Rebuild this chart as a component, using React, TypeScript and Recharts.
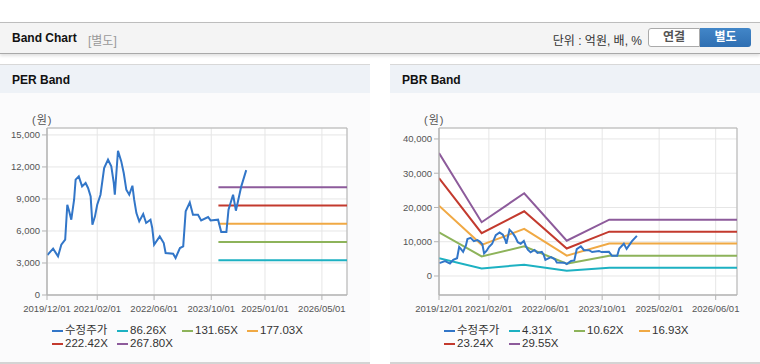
import { LineChart, Line, XAxis, YAxis, CartesianGrid, ReferenceArea } from 'recharts';

// adjusted price (수정주가), shared by both charts
const priceDates = [
  '2019-12-04', '2020-01-22', '2020-03-04', '2020-04-01', '2020-05-04', '2020-05-22',
  '2020-06-07', '2020-06-25', '2020-07-19', '2020-08-01', '2020-08-28', '2020-09-25',
  '2020-10-25', '2020-11-15', '2020-12-07', '2020-12-22', '2021-01-13', '2021-02-01',
  '2021-03-01', '2021-04-01', '2021-05-04', '2021-06-01', '2021-06-22', '2021-07-01',
  '2021-07-28', '2021-08-25', '2021-09-15', '2021-10-07', '2021-11-01', '2021-11-28',
  '2021-12-13', '2022-01-01', '2022-01-25', '2022-02-28', '2022-03-25', '2022-05-01',
  '2022-05-16', '2022-06-01', '2022-07-19', '2022-08-22', '2022-09-07', '2022-11-10',
  '2022-12-01', '2023-01-07', '2023-02-04', '2023-02-25', '2023-04-01', '2023-04-28',
  '2023-06-10', '2023-07-07', '2023-09-04', '2023-09-25', '2023-11-28', '2023-12-25',
  '2024-02-07', '2024-02-25', '2024-04-04', '2024-04-28', '2024-06-13', '2024-07-25',
];
const priceValues = [
  3750, 4340, 3620, 4710, 5180, 8460,
  7840, 7060, 8930, 10810, 11120, 10180,
  10500, 10030, 9240, 6590, 7370, 8460,
  9400, 11900, 12680, 12050, 10500, 9400,
  13520, 12520, 11430, 9870, 9400, 10240,
  8930, 7680, 6900, 7590, 6750, 7060,
  6280, 4710, 5490, 4870, 3940, 3870,
  3470, 4400, 4560, 7840, 8680, 7530,
  7530, 6990, 7310, 6990, 7060, 5900,
  5900, 8000, 9400, 7900, 10180, 11700,
];

const perTickLabels = ['2019/12/01', '2021/02/01', '2022/06/01', '2023/10/01', '2025/01/01', '2026/05/01'];
const pbrTickLabels = ['2019/12/01', '2021/02/01', '2022/06/01', '2023/10/01', '2025/02/01', '2026/06/01'];
const perYTicks = [0, 3000, 6000, 9000, 12000, 15000];
const pbrYTicks = [0, 10000, 20000, 30000, 40000];

const perBandNames = ['86.26X', '131.65X', '177.03X', '222.42X', '267.80X'];
const perBandDates = ['2023-12-01', '2026-12-01'];
const perBandValues = [3250, 4960, 6670, 8385, 10095];

const pbrBandNames = ['4.31X', '10.62X', '16.93X', '23.24X', '29.55X'];
const pbrBandDates = ['2019-12-01', '2020-12-01', '2021-12-01', '2022-12-01', '2023-12-01', '2026-12-01'];
const pbrBand431 = [5200, 2200, 3300, 1550, 2420, 2420];
const pbrBand1062 = [12730, 5720, 8650, 3600, 5930, 5930];
const pbrBand1693 = [20520, 9100, 13750, 5950, 9500, 9500];
const pbrBand2324 = [28600, 12500, 18900, 8030, 12950, 12950];
const pbrBand2955 = [35900, 15700, 24150, 10300, 16450, 16450];

const priceColor = '#3276c8';
const bandColors = ['#1db1c2', '#8db35a', '#f0a944', '#c33a2e', '#8d5b9b'];

const FONT = '"Liberation Sans", "Noto Sans CJK KR", sans-serif';
const toTime = (d: string) => new Date(d.replace(/\//g, '-')).getTime();
const fmtDate = (t: number) => {
  const d = new Date(t);
  const mm = String(d.getUTCMonth() + 1).padStart(2, '0');
  const dd = String(d.getUTCDate()).padStart(2, '0');
  return `${d.getUTCFullYear()}/${mm}/${dd}`;
};
const xDomain = [toTime('2019-12-01'), toTime('2026-12-01')];

const priceData = priceDates.map((d, i) => ({ t: toTime(d), v: priceValues[i] }));

interface Band {
  name: string;
  color: string;
  data: { t: number; v: number }[];
}

const perBands: Band[] = perBandNames.map((name, i) => ({
  name,
  color: bandColors[i],
  data: perBandDates.map((d) => ({ t: toTime(d), v: perBandValues[i] })),
}));

const pbrBands: Band[] = [pbrBand431, pbrBand1062, pbrBand1693, pbrBand2324, pbrBand2955].map(
  (vals, i) => ({
    name: pbrBandNames[i],
    color: bandColors[i],
    data: pbrBandDates.map((d, j) => ({ t: toTime(d), v: vals[j] })),
  })
);

interface BandChartProps {
  title: string;
  left: number;
  tickLabels: string[];
  yTicks: number[];
  yDomain: [number, number];
  yWidth: number;
  bands: Band[];
}

function BandPanel({ title, left, tickLabels, yTicks, yDomain, yWidth, bands }: BandChartProps) {
  const axisColor = '#b3b3b3';
  const tickStyle = { fontSize: 9.5, fill: '#555', fontFamily: FONT };
  const legendItems = [{ name: '수정주가', color: priceColor }, ...bands];

  return (
    <div
      style={{
        position: 'absolute',
        left,
        top: 64,
        width: 370,
        height: 297,
        background: '#fbfbfc',
        borderTop: '1px solid #d8d8d8',
        borderBottom: '2px solid #d4d4d4',
      }}
    >
      <div
        style={{
          height: 28,
          background: '#eef2f7',
          fontWeight: 'bold',
          fontSize: 12,
          lineHeight: '30px',
          paddingLeft: 12,
          color: '#111',
        }}
      >
        {title}
      </div>
      <div style={{ position: 'absolute', left: yWidth - 15, top: 46, fontSize: 11, color: '#555', letterSpacing: 1 }}>
        (원)
      </div>
      <div style={{ position: 'absolute', left: 0, top: 28 }}>
        <LineChart width={370} height={230} margin={{ top: 35, right: 23, bottom: 8, left: 0 }}>
          <CartesianGrid stroke="#e6e6e6" fill="#fff" />
          <XAxis
            type="number"
            dataKey="t"
            domain={xDomain}
            ticks={tickLabels.map(toTime)}
            tickFormatter={fmtDate}
            interval={0}
            height={20}
            tick={tickStyle}
            stroke={axisColor}
            tickSize={5}
            tickMargin={5}
            allowDataOverflow
          />
          <YAxis
            type="number"
            domain={yDomain}
            ticks={yTicks}
            tickFormatter={(v: number) => v.toLocaleString('en-US')}
            width={yWidth}
            tick={tickStyle}
            stroke={axisColor}
            tickSize={5}
            allowDataOverflow
          />
          <ReferenceArea
            x1={xDomain[0]}
            x2={xDomain[1]}
            y1={yDomain[0]}
            y2={yDomain[1]}
            fill="none"
            stroke={axisColor}
            strokeOpacity={1}
          />
          {bands.map((b) => (
            <Line
              key={b.name}
              data={b.data}
              dataKey="v"
              name={b.name}
              stroke={b.color}
              strokeWidth={2}
              dot={false}
              isAnimationActive={false}
            />
          ))}
          <Line
            data={priceData}
            dataKey="v"
            name="수정주가"
            stroke={priceColor}
            strokeWidth={2}
            dot={false}
            isAnimationActive={false}
          />
        </LineChart>
      </div>
      <div
        style={{
          position: 'absolute',
          left: yWidth + 5,
          top: 259,
          display: 'grid',
          gridTemplateColumns: 'repeat(4, 65px)',
          fontSize: 11.5,
          lineHeight: '13px',
          color: '#333',
        }}
      >
        {legendItems.map((item) => (
          <div key={item.name} style={{ display: 'flex', alignItems: 'center', whiteSpace: 'nowrap' }}>
            <span
              style={{ display: 'inline-block', width: 11, height: 2, background: item.color, marginRight: 2 }}
            />
            <span>{item.name}</span>
          </div>
        ))}
      </div>
    </div>
  );
}

export default function App() {
  return (
    <div style={{ position: 'relative', width: 760, height: 364, background: '#fff', fontFamily: FONT, overflow: 'hidden' }}>
      <style>{'body{margin:0}'}</style>
      <div
        style={{
          position: 'absolute',
          left: 0,
          top: 22,
          width: 760,
          height: 30,
          background: '#f4f4f4',
          borderTop: '1px solid #bdbdbd',
          borderBottom: '1px solid #a9a9a9',
          boxShadow: '0 2px 3px rgba(0,0,0,0.12)',
        }}
      >
        <span style={{ position: 'absolute', left: 12, top: 8, fontSize: 12, fontWeight: 'bold', color: '#111' }}>
          Band Chart
        </span>
        <span style={{ position: 'absolute', left: 88, top: 8, fontSize: 12, color: '#999' }}>[별도]</span>
        <span style={{ position: 'absolute', right: 118, top: 8, fontSize: 12, color: '#333' }}>
          단위 : 억원, 배, %
        </span>
        <div
          style={{
            position: 'absolute',
            left: 648,
            top: 5,
            width: 50,
            height: 17,
            border: '1px solid #aaa',
            borderRadius: '3px 0 0 3px',
            background: '#fff',
            fontSize: 12,
            fontWeight: 'bold',
            color: '#555',
            textAlign: 'center',
            lineHeight: '17px',
          }}
        >
          연결
        </div>
        <div
          style={{
            position: 'absolute',
            left: 700,
            top: 5,
            width: 51,
            height: 19,
            borderRadius: '0 3px 3px 0',
            background: 'linear-gradient(#4286c8, #2f6fb2)',
            fontSize: 12,
            fontWeight: 'bold',
            color: '#fff',
            textAlign: 'center',
            lineHeight: '19px',
          }}
        >
          별도
        </div>
      </div>
      <BandPanel
        title="PER Band"
        left={0}
        tickLabels={perTickLabels}
        yTicks={perYTicks}
        yDomain={[0, 15650]}
        yWidth={47}
        bands={perBands}
      />
      <BandPanel
        title="PBR Band"
        left={390}
        tickLabels={pbrTickLabels}
        yTicks={pbrYTicks}
        yDomain={[-5550, 43200]}
        yWidth={49}
        bands={pbrBands}
      />
    </div>
  );
}
